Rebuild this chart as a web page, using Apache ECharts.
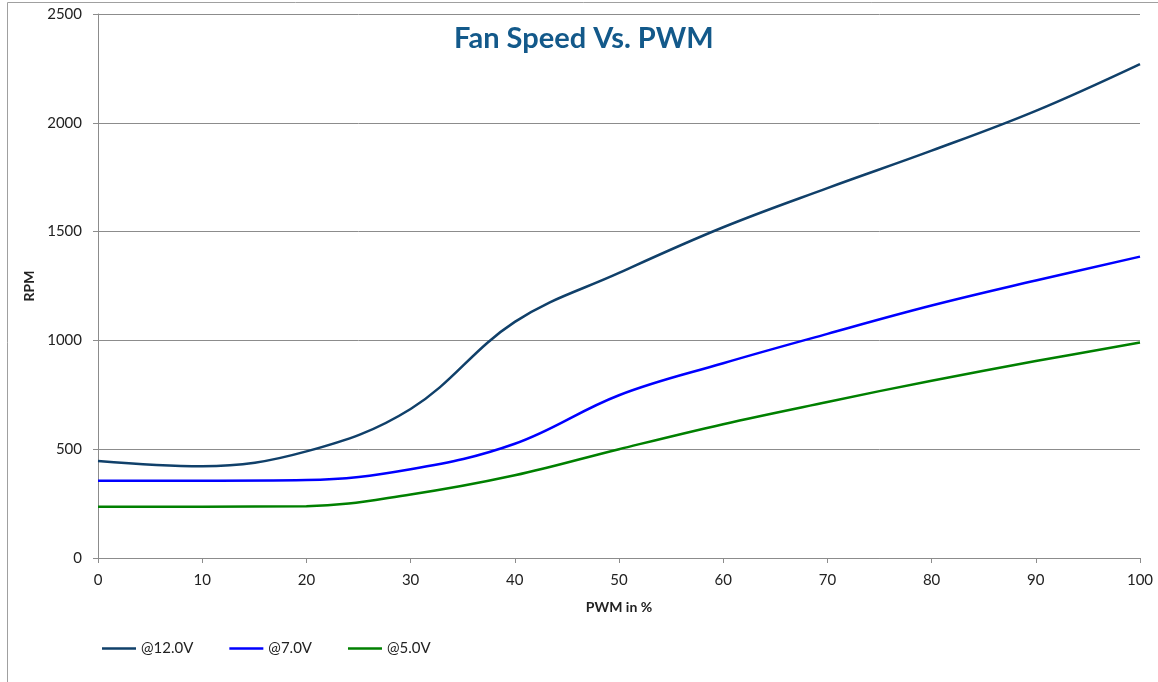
<!DOCTYPE html>
<html>
<head>
<meta charset="UTF-8">
<title>Fan Speed Vs. PWM</title>
<script src="https://cdn.jsdelivr.net/npm/echarts@6/dist/echarts.min.js"></script>
<style>
  html, body { margin: 0; padding: 0; background: #fff; }
  #main { width: 1158px; height: 682px; }
</style>
</head>
<body>
<div id="main"></div>
<script type="text/javascript">
// PWM duty cycle (%) and measured fan speed (RPM) per supply voltage
var pwm = [0, 10, 20, 30, 40, 50, 60, 70, 80, 90, 100];
var rpm12 = [446, 422, 490, 685, 1085, 1310, 1520, 1700, 1872, 2055, 2270];
var rpm7 = [355, 355, 358, 408, 525, 748, 895, 1030, 1160, 1275, 1385];
var rpm5 = [236, 236, 238, 292, 380, 500, 615, 717, 815, 905, 990];
var seriesNames = ['@12.0V', '@7.0V', '@5.0V'];

function pairs(ys) {
    return pwm.map(function (x, i) { return [x, ys[i]]; });
}

var myChart = echarts.init(document.getElementById('main'));
var font = 'Lato, "Open Sans", sans-serif';

var option = {
    animation: false,
    textStyle: { fontFamily: font },
    title: {
        text: 'Fan Speed Vs. PWM',
        left: 449,
        top: 19,
        textStyle: { fontSize: 29, fontWeight: 'bold', color: '#13598a', fontFamily: font }
    },
    graphic: [{
        type: 'rect',
        shape: { x: 7.5, y: 2.5, width: 1200, height: 800 },
        style: { fill: 'none', stroke: '#a0a0a0', lineWidth: 1 },
        silent: true
    }],
    legend: {
        left: 102,
        top: 641,
        padding: 0,
        icon: 'rect',
        itemWidth: 34,
        itemHeight: 2.5,
        itemGap: 36,
        textStyle: { fontSize: 15, color: '#222', fontFamily: font },
        data: seriesNames
    },
    grid: {
        left: 98,
        top: 14,
        width: 1042,
        height: 544,
        containLabel: false,
        outerBoundsMode: 'none'
    },
    xAxis: {
        type: 'value',
        min: 0,
        max: 100,
        interval: 10,
        name: 'PWM in %',
        nameLocation: 'middle',
        nameGap: 42,
        nameTextStyle: { fontSize: 14, fontWeight: 'bold', color: '#222', fontFamily: font },
        axisLine: { show: true, lineStyle: { color: '#8c8c8c', width: 1 } },
        axisTick: { show: true, length: 5, lineStyle: { color: '#8c8c8c' } },
        axisLabel: { fontSize: 15, color: '#222', margin: 15 },
        splitLine: { show: false }
    },
    yAxis: {
        type: 'value',
        min: 0,
        max: 2500,
        interval: 500,
        name: 'RPM',
        nameLocation: 'middle',
        nameGap: 60,
        nameTextStyle: { fontSize: 14, fontWeight: 'bold', color: '#222', fontFamily: font },
        axisLine: { show: true, lineStyle: { color: '#8c8c8c', width: 1 } },
        axisTick: { show: true, length: 5, lineStyle: { color: '#8c8c8c' } },
        axisLabel: { fontSize: 15, color: '#222', margin: 16, formatter: function (v) { return String(v); } },
        splitLine: { show: true, lineStyle: { color: '#8c8c8c', width: 1 } }
    },
    series: [
        {
            name: seriesNames[0],
            type: 'line',
            smooth: 0.38,
            symbol: 'none',
            data: pairs(rpm12),
            lineStyle: { color: '#10406a', width: 2.5 },
            itemStyle: { color: '#10406a' }
        },
        {
            name: seriesNames[1],
            type: 'line',
            smooth: 0.38,
            symbol: 'none',
            data: pairs(rpm7),
            lineStyle: { color: '#0000ff', width: 2.5 },
            itemStyle: { color: '#0000ff' }
        },
        {
            name: seriesNames[2],
            type: 'line',
            smooth: 0.38,
            symbol: 'none',
            data: pairs(rpm5),
            lineStyle: { color: '#008000', width: 2.5 },
            itemStyle: { color: '#008000' }
        }
    ]
};

myChart.setOption(option);
</script>
</body>
</html>
